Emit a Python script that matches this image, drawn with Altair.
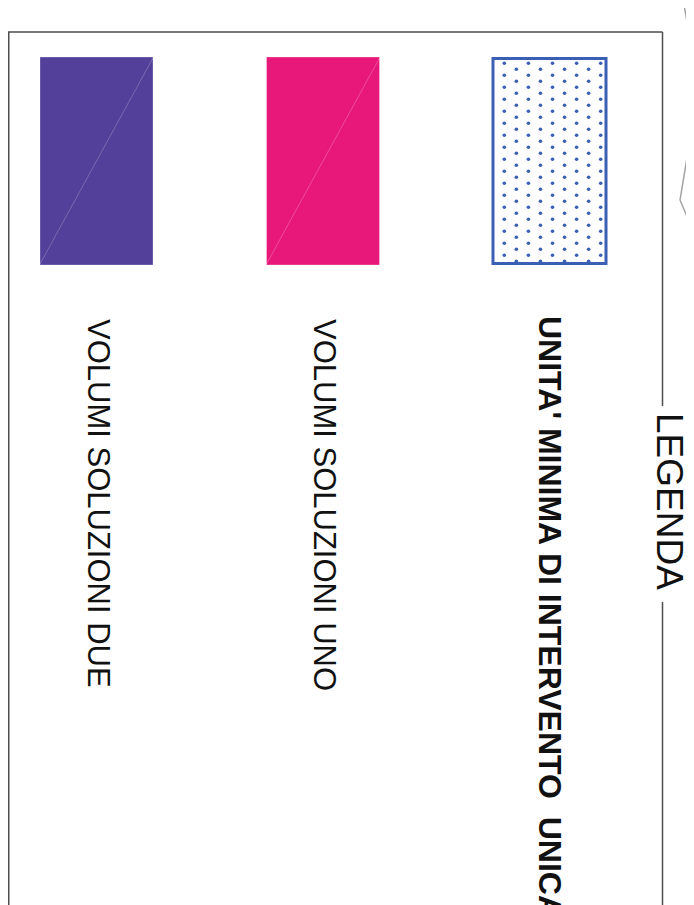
import altair as alt
import pandas as pd

# ---- content of the legend -------------------------------------------------
keys = ["due", "uno", "unica"]
labels = [
    "VOLUMI SOLUZIONI DUE",
    "VOLUMI SOLUZIONI UNO",
    "UNITA' MINIMA DI INTERVENTO\u00a0 UNICA",
]
kinds = ["solid", "solid", "pattern"]
emphasis = [False, False, True]
legend_title = "LEGENDA"

# ---- styles -----------------------------------------------------------------
swatch_colors = ["#52409a", "#e8187a", "#ffffff"]
pattern_color = "#3b5fb5"
frame_color = "#4d4d4d"
outline_color = "#a3a3a3"
FONT = "Liberation Sans"

df = pd.DataFrame({"key": keys, "label": labels, "kind": kinds, "bold": emphasis})

W, H = 678, 897


def xscale():
    # band layout of the three swatches (bands start at 32, 258.5, 485 px, 113 px wide)
    return alt.Scale(type="band", domain=keys, range=[32, 598],
                     paddingInner=0.5011, paddingOuter=0, align=0.5)


def X(**kw):
    return alt.X("key:N", scale=xscale(), axis=None, **kw)


base = alt.Chart(df)

solid = (
    base.transform_filter("datum.kind == 'solid'")
    .mark_rect(stroke="white", strokeOpacity=0.3, strokeWidth=1)
    .encode(
        x=X(),
        y=alt.value(49),
        y2=alt.value(257),
        color=alt.Color("key:N", scale=alt.Scale(domain=keys, range=swatch_colors), legend=None),
    )
)

diag = (
    base.transform_filter("datum.kind == 'solid'")
    .mark_rule(color="white", opacity=0.22, strokeWidth=1)
    .encode(
        x=X(bandPosition=0),
        x2=alt.X2("key", bandPosition=1),
        y=alt.value(256),
        y2=alt.value(50),
    )
)

pattern_box = (
    base.transform_filter("datum.kind == 'pattern'")
    .mark_rect(fill="white", stroke=pattern_color, strokeWidth=3)
    .encode(x=X(), y=alt.value(50.5), y2=alt.value(255.5))
)

# dotted texture of the pattern swatch (a fill pattern, 9 columns x 17 rows, staggered)
dots = (
    alt.Chart(alt.sequence(0, 153, as_="i"))
    .transform_calculate(
        col="datum.i % 9",
        row="floor(datum.i / 9) + ((datum.i % 9) % 2) * 0.5",
    )
    .mark_circle(size=13, opacity=1, color=pattern_color)
    .encode(
        x=alt.X("col:Q", scale=alt.Scale(domain=[0, 8], range=[496.3, 592.7], nice=False, zero=False), axis=None),
        y=alt.Y("row:Q", scale=alt.Scale(domain=[0, 16], range=[55.3, 247.3], nice=False, zero=False), axis=None),
    )
)

text_reg = (
    base.transform_filter("!datum.bold")
    .mark_text(angle=90, align="left", baseline="middle", font=FONT, fontSize=31, color="#111111")
    .encode(x=X(), y=alt.value(311), text="label:N")
)

text_bold = (
    base.transform_filter("datum.bold")
    .mark_text(angle=90, align="left", baseline="middle", font=FONT, fontSize=32,
               fontWeight="bold", color="#111111")
    .encode(x=X(), y=alt.value(308), text="label:N")
)

title_layer = (
    alt.Chart(pd.DataFrame({"t": [legend_title]}))
    .mark_text(angle=90, align="left", baseline="middle", font=FONT, fontSize=37, color="#111111")
    .encode(x=alt.value(660), y=alt.value(405), text="t:N")
)


def seg(x1, y1, x2, y2, color, w):
    return (
        alt.Chart(pd.DataFrame({"s": [0]}))
        .mark_rule(color=color, strokeWidth=w)
        .encode(x=alt.value(x1), y=alt.value(y1), x2=alt.value(x2), y2=alt.value(y2))
    )


frame = [
    seg(0, 24, 654.5, 24, frame_color, 1.5),
    seg(0.75, 24, 0.75, H, frame_color, 1.5),
    seg(654.5, 24, 654.5, 398, frame_color, 1.5),
    seg(654.5, 594, 654.5, H, frame_color, 1.5),
]
outline = [
    seg(675.3, -8, 685.3, 52, outline_color, 1.5),
    seg(686, 132, 680.3, 142, outline_color, 1.5),
    seg(680.3, 142, 672, 192, outline_color, 1.5),
    seg(672, 192, 686, 225, outline_color, 1.5),
]

chart = (
    alt.layer(solid, diag, pattern_box, dots, text_reg, text_bold, title_layer, *frame, *outline)
    .resolve_scale(x="independent", y="independent")
    .properties(width=W, height=H, autosize=alt.AutoSizeParams(type="none"), padding=0)
    .configure_view(stroke=None)
)

chart.save("out.html", embed_options={"renderer": "svg", "actions": False})
